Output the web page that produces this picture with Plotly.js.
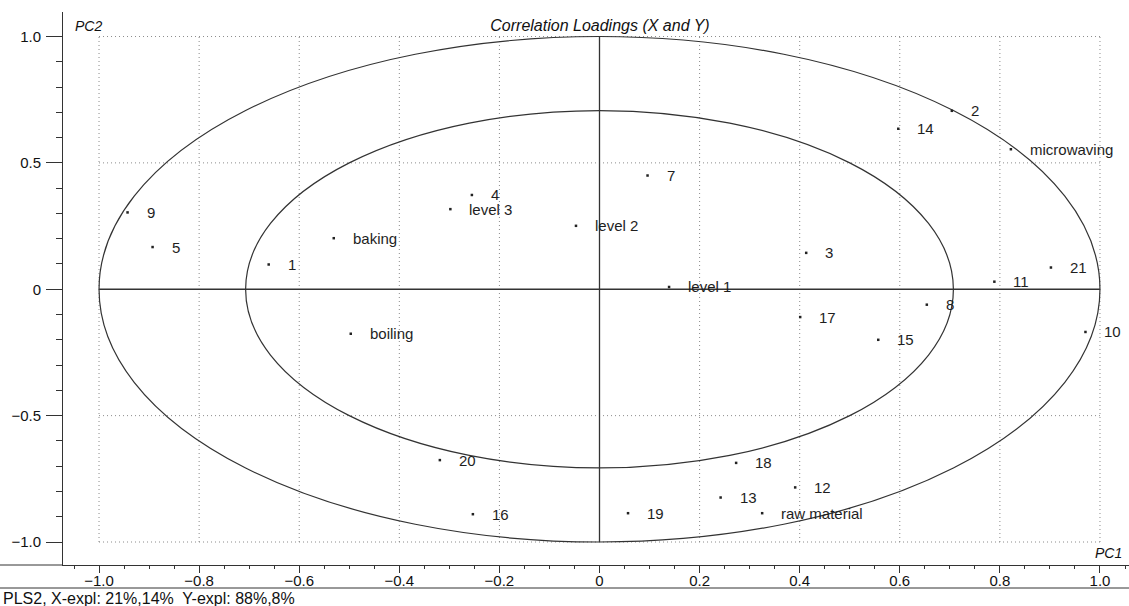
<!DOCTYPE html>
<html><head><meta charset="utf-8">
<script src="https://cdn.plot.ly/plotly-3.0.1.min.js"></script>
<style>html,body{margin:0;padding:0;background:#fff;}#chart{width:1129px;height:606px;}</style>
</head><body><div id="chart"></div>
<script>
// Correlation loadings (PC1, PC2)
const labels = ["1","2","3","4","5","7","8","9","10","11","12","13","14","15","16","17","18","19","20","21",
  "baking","boiling","microwaving","raw material","level 1","level 2","level 3"];
const pc1 = [-0.661, 0.704, 0.413, -0.255, -0.893, 0.096, 0.654, -0.943, 0.971, 0.789, 0.391, 0.242, 0.597, 0.557, -0.253, 0.401, 0.273, 0.057, -0.319, 0.902,
  -0.531, -0.497, 0.822, 0.325, 0.139, -0.047, -0.298];
const pc2 = [0.098, 0.706, 0.144, 0.373, 0.167, 0.450, -0.061, 0.304, -0.169, 0.030, -0.784, -0.824, 0.635, -0.200, -0.890, -0.110, -0.687, -0.886, -0.676, 0.086,
  0.202, -0.176, 0.554, -0.886, 0.009, 0.251, 0.317];

const xTickVals = [-1.0, -0.8, -0.6, -0.4, -0.2, 0, 0.2, 0.4, 0.6, 0.8, 1.0];
const xTickText = ["\u22121.0","\u22120.8","\u22120.6","\u22120.4","\u22120.2","0","0.2","0.4","0.6","0.8","1.0"];
const yTickVals = [-1.0, -0.5, 0, 0.5, 1.0];
const yTickText = ["\u22121.0","\u22120.5","0","0.5","1.0"];
const yGridVals = [-1.0, -0.5, 0.5, 1.0];
const outerR = 1.0;
const innerR = 0.7071;

const FONT = "Liberation Sans, Arial, sans-serif";
const lineCol = "#333";

const shapes = [];
// dotted grid inside the unit square
xTickVals.forEach(v => shapes.push({type:'line', xref:'x', yref:'y', x0:v, x1:v, y0:-outerR, y1:outerR,
  line:{color:'#8a8a8a', width:1, dash:'1px,3px'}, layer:'below'}));
yGridVals.forEach(v => shapes.push({type:'line', xref:'x', yref:'y', y0:v, y1:v, x0:-outerR, x1:outerR,
  line:{color:'#8a8a8a', width:1, dash:'1px,3px'}, layer:'below'}));
// ellipses (circles in data space)
[outerR, innerR].forEach(r => shapes.push({type:'circle', xref:'x', yref:'y', x0:-r, x1:r, y0:-r, y1:r,
  line:{color:lineCol, width:1.2}, layer:'below'}));
// cross
shapes.push({type:'line', xref:'x', yref:'y', x0:0, x1:0, y0:-outerR, y1:outerR, line:{color:lineCol, width:1.3}, layer:'below'});
shapes.push({type:'line', xref:'x', yref:'y', x0:-outerR, x1:outerR, y0:0, y1:0, line:{color:lineCol, width:1.3}, layer:'below'});
// axis extension and lower rule
shapes.push({type:'line', xref:'paper', yref:'paper', x0:-63/1066, x1:0, y0:0, y1:0, line:{color:lineCol, width:1}});
shapes.push({type:'line', xref:'paper', yref:'paper', x0:-63/1066, x1:1, y0:-23/553, y1:-23/553, line:{color:lineCol, width:1}});

const annotations = labels.map((t, i) => ({x:pc1[i], y:pc2[i], xref:'x', yref:'y', text:t, showarrow:false,
  xanchor:'left', yanchor:'middle', xshift:17, font:{family:FONT, size:15, color:'#1e1e1e'}}));
annotations.push({xref:'paper', yref:'paper', x:(73-63)/1066, y:1-(26-12)/553, text:'<i>PC2</i>', showarrow:false,
  xanchor:'left', yanchor:'middle', font:{family:FONT, size:14, color:'#111'}});
annotations.push({xref:'paper', yref:'paper', x:(1124-63)/1066, y:-(553-565)/553, text:'<i>PC1</i>', showarrow:false,
  xanchor:'right', yanchor:'middle', font:{family:FONT, size:14, color:'#111'}});
annotations.push({xref:'paper', yref:'paper', x:(1-63)/1066, y:-(598-565)/553, text:'PLS2, X-expl: 21%,14%  Y-expl: 88%,8%', showarrow:false,
  xanchor:'left', yanchor:'middle', font:{family:FONT, size:16, color:'#111'}});

const trace = {x:pc1, y:pc2, type:'scatter', mode:'markers', hoverinfo:'text', text:labels,
  marker:{symbol:'square', size:2.5, color:'#222'}};

const layout = {
  width:1129, height:606, margin:{l:63, r:0, t:12, b:41},
  paper_bgcolor:'#fff', plot_bgcolor:'#fff', showlegend:false,
  font:{family:FONT, color:'#111'},
  title:{text:'<i>Correlation Loadings (X and Y)</i>', font:{family:FONT, size:16, color:'#111'},
    xref:'container', yref:'container', x:600/1129, y:1-25/606, xanchor:'center', yanchor:'middle'},
  xaxis:{range:[-1.072, 1.058], showgrid:false, zeroline:false, showline:true, linecolor:lineCol, linewidth:1,
    ticks:'outside', ticklen:7, tickcolor:lineCol, tickvals:xTickVals, ticktext:xTickText,
    ticklabelstandoff:-5,
    tickfont:{family:FONT, size:15, color:'#111'},
    minor:{tickmode:'linear', tick0:0, dtick:0.05, ticklen:3, tickcolor:lineCol, ticks:'outside', showgrid:false}},
  yaxis:{range:[-1.091, 1.097], showgrid:false, zeroline:false, showline:true, linecolor:lineCol, linewidth:1,
    ticks:'outside', ticklen:16, tickcolor:lineCol, tickvals:yTickVals, ticktext:yTickText,
    ticklabelstandoff:2,
    tickfont:{family:FONT, size:15, color:'#111'},
    minor:{tickmode:'linear', tick0:0, dtick:0.1, ticklen:6, tickcolor:lineCol, ticks:'outside', showgrid:false}},
  shapes:shapes, annotations:annotations
};
Plotly.newPlot('chart', [trace], layout, {displayModeBar:false, staticPlot:true});
</script></body></html>
